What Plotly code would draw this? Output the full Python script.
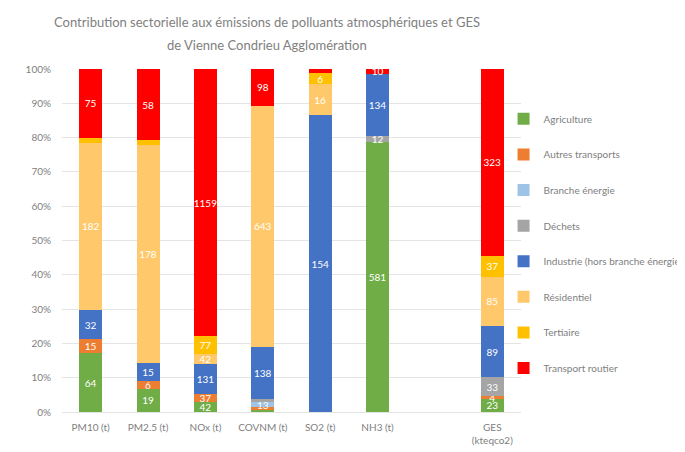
import plotly.graph_objects as go

categories = ["PM10 (t)", "PM2.5 (t)", "NOx (t)", "COVNM (t)", "SO2 (t)", "NH3 (t)", " ", "GES<br>(kteqco2)"]

sectors = ["Agriculture", "Autres transports", "Branche énergie", "Déchets",
           "Industrie (hors branche énergie)", "Résidentiel", "Tertiaire", "Transport routier"]

agriculture      = [64, 19, 42, 5,   0,   581, None, 23]
autres_transports = [15, 6, 37, 8,   0,   0,   None, 4]
branche_energie  = [0, 0, 0, 13,     0,   0,   None, 0]
dechets          = [0, 0, 0, 10,     0,   12,  None, 33]
industrie        = [32, 15, 131, 138, 154, 134, None, 89]
residentiel      = [182, 178, 42, 643, 16, 0,  None, 85]
tertiaire        = [5, 4, 77, 0,     6,   0,   None, 37]
transport_routier = [75, 58, 1159, 98, 2,  10,  None, 323]

# which values carry a data label in the original
labelled = {
    "Agriculture":      [1, 1, 1, 0, 0, 1, 0, 1],
    "Autres transports": [1, 1, 1, 0, 0, 0, 0, 1],
    "Branche énergie":  [0, 0, 0, 1, 0, 0, 0, 0],
    "Déchets":          [0, 0, 0, 0, 0, 1, 0, 1],
    "Industrie (hors branche énergie)": [1, 1, 1, 1, 1, 1, 0, 1],
    "Résidentiel":      [1, 1, 1, 1, 1, 0, 0, 1],
    "Tertiaire":        [0, 0, 1, 0, 1, 0, 0, 1],
    "Transport routier": [1, 1, 1, 1, 0, 1, 0, 1],
}

series = [agriculture, autres_transports, branche_energie, dechets,
          industrie, residentiel, tertiaire, transport_routier]
colors = ["#70AD47", "#ED7D31", "#9DC3E6", "#A5A5A5",
          "#4472C4", "#FFC96B", "#FFC000", "#FF0000"]

y_ticks = [i / 10 * 100 for i in range(11)]
y_ticktext = [f"{int(v)}%" for v in y_ticks]

title_line1 = "Contribution sectorielle aux émissions de polluants atmosphériques et GES"
title_line2 = "de Vienne Condrieu Agglomération"

FONT = "Lato, sans-serif"
GREY = "#808080"

fig = go.Figure()
for name, vals, col in zip(sectors, series, colors):
    txt = [str(v) if (v and f) else "" for v, f in zip(vals, labelled[name])]
    fig.add_trace(go.Bar(
        x=categories, y=vals, name=name, marker_color=col,
        marker_line_width=0,
        text=txt, textposition="inside", insidetextanchor="middle",
        textangle=0, constraintext="none",
        textfont=dict(color="white", size=10, family=FONT),
        legendgroup=name,
    ))

W, H = 677, 444
fig.update_layout(
    barmode="stack", barnorm="percent", bargap=0.6,
    width=W, height=H,
    paper_bgcolor="white", plot_bgcolor="white",
    margin=dict(l=54, r=164, t=61, b=40, autoexpand=False),
    title=dict(text=title_line1,
               x=259 / W, xanchor="center", xref="container",
               y=1 - 14 / H, yanchor="middle", yref="container",
               font=dict(family=FONT, size=13, color=GREY)),
    annotations=[dict(text=title_line2, xref="paper", yref="paper",
                      x=(259 - 54) / (W - 54 - 164), y=1 + (61 - 37) / (H - 61 - 40),
                      xanchor="center", yanchor="middle", showarrow=False,
                      font=dict(family=FONT, size=13, color=GREY))],
    font=dict(family=FONT, color=GREY, size=10),
    legend=dict(x=0.962, xanchor="left", y=0.897, yanchor="top",
                bgcolor="rgba(0,0,0,0)",
                font=dict(size=10, color=GREY), tracegroupgap=16.6,
                traceorder="grouped", itemwidth=30),
    uniformtext=dict(mode="show", minsize=8),
    showlegend=True,
)
fig.update_yaxes(range=[0, 100], tickvals=y_ticks, ticktext=y_ticktext,
                 gridcolor="#E4E4E4", zeroline=False, showline=False, automargin=False,
                 ticks="outside", ticklen=8, tickcolor="rgba(0,0,0,0)",
                 tickfont=dict(size=10, color=GREY))
fig.update_xaxes(showline=True, linecolor="#E4E4E4", automargin=False,
                 ticks="outside", ticklen=6, tickcolor="rgba(0,0,0,0)",
                 tickfont=dict(size=10, color=GREY))

fig.write_html("out.html")
